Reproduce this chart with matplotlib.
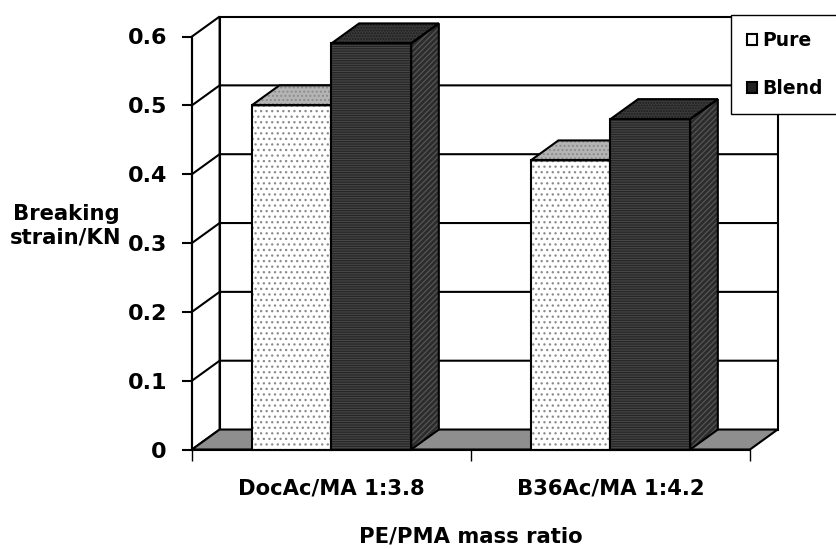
import matplotlib
matplotlib.use("Agg")
import matplotlib.pyplot as plt
from matplotlib.patches import Polygon, Patch

# ---- data -------------------------------------------------------------
categories = ["DocAc/MA 1:3.8", "B36Ac/MA 1:4.2"]
series_names = ["Pure", "Blend"]
pure = [0.50, 0.42]
blend = [0.59, 0.48]
y_ticks = [0, 0.1, 0.2, 0.3, 0.4, 0.5, 0.6]
y_tick_labels = ["0", "0.1", "0.2", "0.3", "0.4", "0.5", "0.6"]
x_label = "PE/PMA mass ratio"
y_label = "Breaking\nstrain/KN"

# ---- styling ----------------------------------------------------------
plt.rcParams["font.family"] = ["DejaVu Sans"]
plt.rcParams["hatch.linewidth"] = 0.9
W, H = 837, 549
fig = plt.figure(figsize=(W / 100, H / 100), dpi=100)
fig.patch.set_facecolor("white")

# front plane of the 3-D box
ax = fig.add_axes([192 / W, (H - 449.5) / H, 558 / W, 413 / H])
ymax = y_ticks[-1]
ax.set_xlim(0, len(categories))
ax.set_ylim(0, ymax)
ax.set_facecolor("none")

# depth of the box (oblique projection), in data units
DX = 0.099
DY = 0.029
LW = 1.5


def face(verts, fc, hatch=None, hc=None, z=2):
    ax.add_patch(Polygon(verts, closed=True, facecolor=fc, edgecolor=hc or fc,
                         hatch=hatch, lw=0, zorder=z, clip_on=False))
    ax.add_patch(Polygon(verts, closed=True, fill=False, edgecolor="black",
                         lw=LW, zorder=z + 0.01, clip_on=False,
                         joinstyle="miter"))


n = len(categories)
# back wall
face([(DX, DY), (n + DX, DY), (n + DX, ymax + DY), (DX, ymax + DY)], "white", z=1)
# left wall
face([(0, 0), (DX, DY), (DX, ymax + DY), (0, ymax)], "white", z=1)
# gridlines on back and left walls
for v in y_ticks[1:-1]:
    ax.plot([0, DX, n + DX], [v, v + DY, v + DY], color="black", lw=LW,
            zorder=1.1, clip_on=False, solid_joinstyle="miter")
# floor
face([(0, 0), (n, 0), (n + DX, DY), (DX, DY)], "#8e8e8e", z=1.2)

# bars
bw = 1 / 3.5
styles = [
    # front, top, side
    dict(front=("white", "...", "#8a8a8a"), top=("#b4b4b4", "....", "#8a8a8a"),
         side=("#d0d0d0", "....", "#9a9a9a")),
    dict(front=("#474747", "-------", "#262626"), top=("#3a3a3a", "......", "#1c1c1c"),
         side=("#2c2c2c", "//////", "#555555")),
]
for i in range(n):
    x0 = i + (1 - 2 * bw) / 2
    for s, vals in enumerate([pure, blend]):
        v = vals[i]
        a, b = x0 + s * bw, x0 + (s + 1) * bw
        st = styles[s]
        z = 3 + s
        face([(b, 0), (b + DX, DY), (b + DX, v + DY), (b, v)], *st["side"], z=z)
        face([(a, v), (b, v), (b + DX, v + DY), (a + DX, v + DY)], *st["top"], z=z)
        face([(a, 0), (b, 0), (b, v), (a, v)], *st["front"], z=z)

# axes, ticks and labels
for sp in ["top", "right"]:
    ax.spines[sp].set_visible(False)
for sp in ["left", "bottom"]:
    ax.spines[sp].set_linewidth(LW)
    ax.spines[sp].set_zorder(10)

label_font = dict(fontsize=15.2, fontweight="bold")
ax.set_yticks(y_ticks, y_tick_labels, fontsize=16, fontweight="bold")
ax.tick_params(axis="y", length=7, width=LW, pad=11, color="black")
ax.set_xticks(range(n + 1), [""] * (n + 1))
ax.tick_params(axis="x", which="major", length=8, width=1.0)
ax.set_xticks([i + 0.5 for i in range(n)], categories, minor=True, **label_font)
ax.tick_params(axis="x", which="minor", length=0, pad=21)

ax.set_xlabel(x_label, **label_font)
ax.xaxis.set_label_coords(0.5, -(526 - 449.5) / 413)
ax.set_ylabel(y_label, rotation=0, ha="center", va="center",
              multialignment="center", linespacing=1.2, **label_font)
ax.yaxis.set_label_coords((66 - 192) / 558, (449.5 - 226) / 413)

handles = [
    Patch(facecolor="white", edgecolor="black", lw=1.5, label=series_names[0]),
    Patch(facecolor="#222222", edgecolor="black", lw=1.5, label=series_names[1]),
]
leg = ax.legend(handles=handles, loc="upper left",
                bbox_to_anchor=(731 / W, 1 - 15 / H), bbox_transform=fig.transFigure,
                prop=dict(size=13.5, weight="bold"), frameon=True, fancybox=False,
                framealpha=1, edgecolor="black", borderpad=0.85, labelspacing=1.55,
                handlelength=0.55, handleheight=0.55, handletextpad=0.25,
                borderaxespad=0)
leg.get_frame().set_linewidth(1.0)
leg.set_zorder(20)

fig.savefig("out.png", dpi=100)
